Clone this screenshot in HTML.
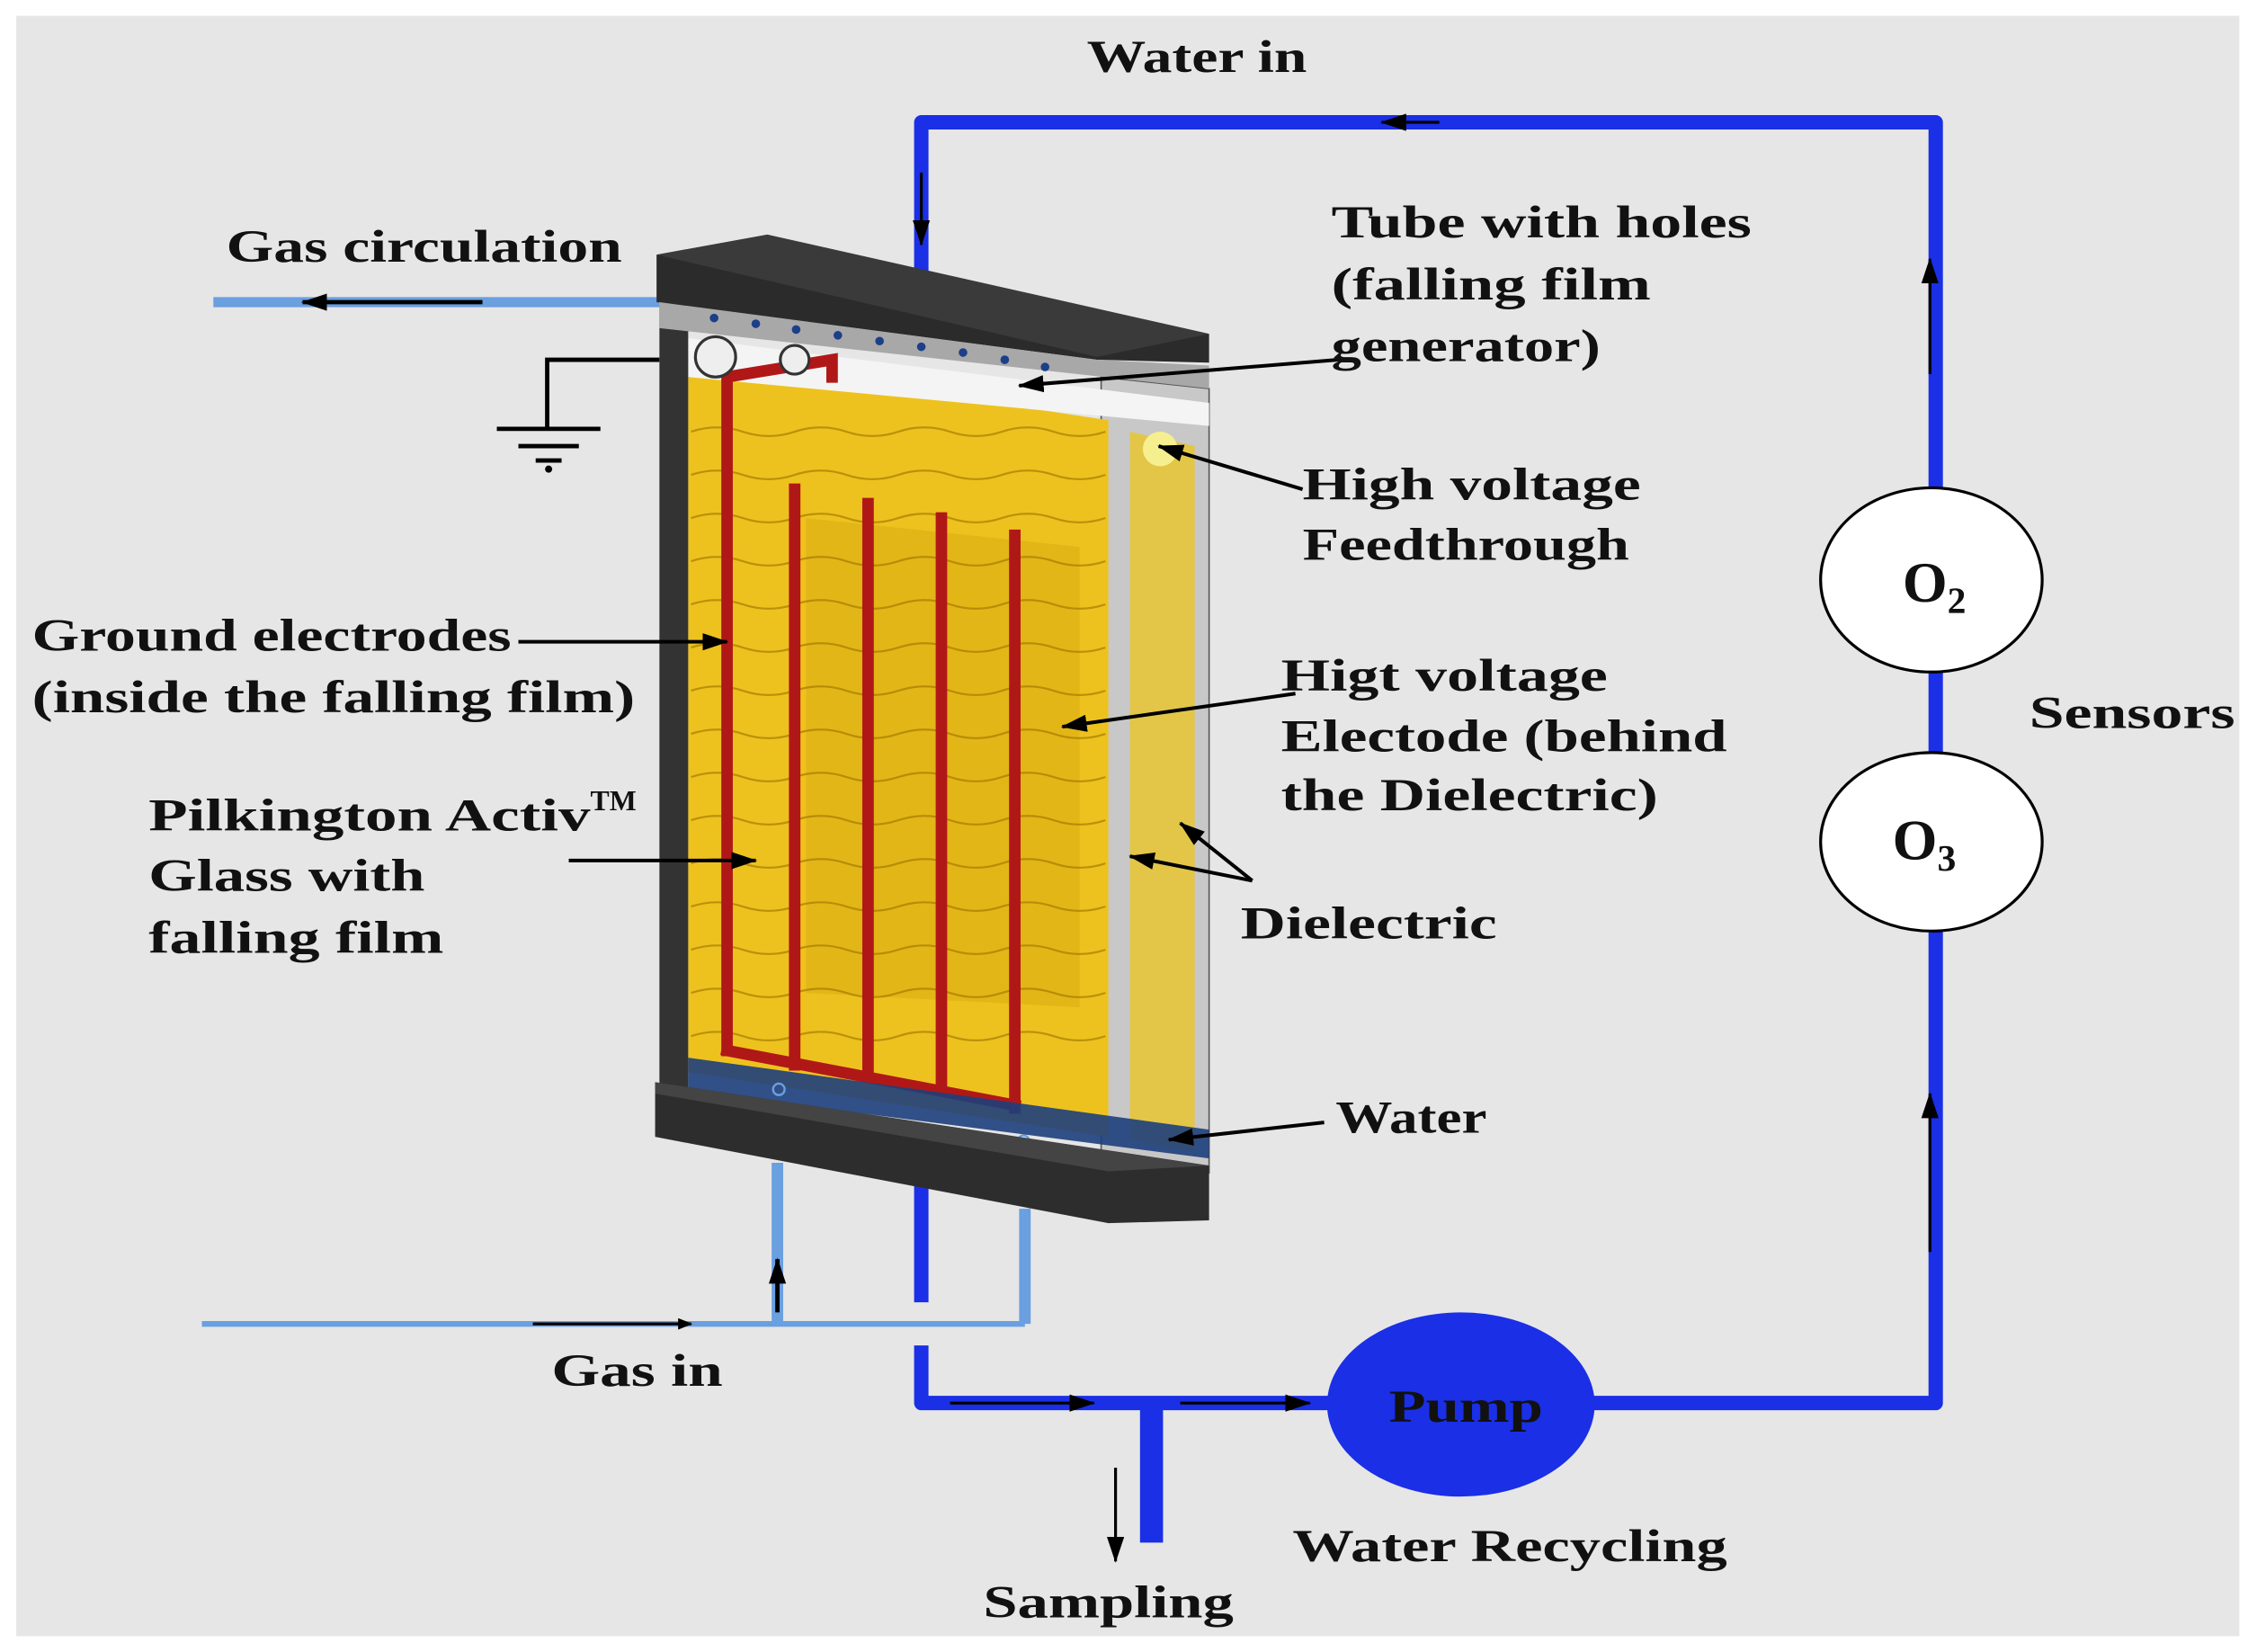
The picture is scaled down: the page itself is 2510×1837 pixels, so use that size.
<!DOCTYPE html>
<html><head><meta charset="utf-8"><style>
html,body{margin:0;padding:0;background:#fff;}
svg{display:block;}
text{font-family:"Liberation Serif",serif;font-weight:bold;fill:#111;}
</style></head><body>
<svg width="2510" height="1837" viewBox="0 0 1568 1148" xmlns="http://www.w3.org/2000/svg">
<defs>
<marker id="ah" markerWidth="10" markerHeight="8" refX="9" refY="4" orient="auto" markerUnits="userSpaceOnUse"><path d="M0,0 L10,4 L0,8 Z" fill="#000"/></marker>
<marker id="ahb" markerWidth="18" markerHeight="12" refX="17" refY="6" orient="auto" markerUnits="userSpaceOnUse"><path d="M0,0 L18,6 L0,12 Z" fill="#000"/></marker>
</defs>
<rect x="11" y="11" width="1545" height="1126" fill="#e6e6e6"/>

<g stroke="#1a2fe6" stroke-width="10" fill="none" stroke-linejoin="round">
<path d="M640,200 L640,85 L1345,85 L1345,975 L1105,975"/>
<path d="M640,822 L640,905 M640,935 L640,975 L925,975"/>
<path d="M800,975 L800,1072" stroke-width="16"/>
</g>
<g stroke="#000" stroke-width="2" fill="none">
<line x1="1000" y1="85" x2="960" y2="85" marker-end="url(#ahb)"/>
<line x1="640" y1="120" x2="640" y2="170" marker-end="url(#ahb)"/>
<line x1="1341" y1="260" x2="1341" y2="180" marker-end="url(#ahb)"/>
<line x1="1341" y1="870" x2="1341" y2="760" marker-end="url(#ahb)"/>
<line x1="660" y1="975" x2="760" y2="975" marker-end="url(#ahb)"/>
<line x1="820" y1="975" x2="910" y2="975" marker-end="url(#ahb)"/>
<line x1="775" y1="1020" x2="775" y2="1085" marker-end="url(#ahb)"/>
</g>
<ellipse cx="1342" cy="403" rx="77" ry="64" fill="#fff" stroke="#000" stroke-width="2"/>
<ellipse cx="1342" cy="585" rx="77" ry="62" fill="#fff" stroke="#000" stroke-width="2"/>
<text x="1322" y="418" font-size="40" font-weight="normal">O<tspan font-size="26" dy="8">2</tspan></text>
<text x="1315" y="597" font-size="40" font-weight="normal">O<tspan font-size="26" dy="8">3</tspan></text>
<ellipse cx="1015" cy="976" rx="93" ry="64" fill="#1a2fe6"/>
<text x="965" y="988" font-size="32" textLength="107" lengthAdjust="spacingAndGlyphs">Pump</text>

<g stroke="#6a9fe0" fill="none">
<line x1="148" y1="210" x2="458" y2="210" stroke-width="7"/>
<line x1="140" y1="920" x2="712" y2="920" stroke-width="4"/>
<line x1="540" y1="808" x2="540" y2="920" stroke-width="8"/>
<line x1="712" y1="840" x2="712" y2="920" stroke-width="8"/>
</g>
<line x1="335" y1="210" x2="210" y2="210" stroke="#000" stroke-width="3" marker-end="url(#ahb)"/>
<line x1="370" y1="920" x2="480" y2="920" stroke="#000" stroke-width="2" marker-end="url(#ah)"/>
<line x1="540" y1="912" x2="540" y2="875" stroke="#000" stroke-width="3" marker-end="url(#ahb)"/>

<g stroke="#000" stroke-width="3" fill="none">
<path d="M458,250 L380,250 L380,298"/>
<line x1="345" y1="298" x2="417" y2="298"/>
<line x1="360" y1="310" x2="402" y2="310"/>
<line x1="372" y1="320" x2="390" y2="320"/>
</g>
<circle cx="381" cy="326" r="2.5" fill="#000"/>

<polygon points="765,262 840,270 840,815 765,800" fill="#c8c8c8" stroke="#555" stroke-width="1"/>
<polygon points="785,300 830,310 830,800 785,792" fill="#e8c530" opacity="0.85"/>
<polygon points="478,248 770,292 770,790 478,745" fill="#eec21e"/>
<polygon points="560,360 750,380 750,700 560,690" fill="#d7aa10" opacity="0.5"/>
<g stroke="#a07800" stroke-width="1.4" fill="none" opacity="0.65">
<path d="M480,300 q18,-6 36,0 t36,0 t36,0 t36,0 t36,0 t36,0 t36,0 t36,0"/>
<path d="M480,330 q18,-6 36,0 t36,0 t36,0 t36,0 t36,0 t36,0 t36,0 t36,0"/>
<path d="M480,360 q18,-6 36,0 t36,0 t36,0 t36,0 t36,0 t36,0 t36,0 t36,0"/>
<path d="M480,390 q18,-6 36,0 t36,0 t36,0 t36,0 t36,0 t36,0 t36,0 t36,0"/>
<path d="M480,420 q18,-6 36,0 t36,0 t36,0 t36,0 t36,0 t36,0 t36,0 t36,0"/>
<path d="M480,450 q18,-6 36,0 t36,0 t36,0 t36,0 t36,0 t36,0 t36,0 t36,0"/>
<path d="M480,480 q18,-6 36,0 t36,0 t36,0 t36,0 t36,0 t36,0 t36,0 t36,0"/>
<path d="M480,510 q18,-6 36,0 t36,0 t36,0 t36,0 t36,0 t36,0 t36,0 t36,0"/>
<path d="M480,540 q18,-6 36,0 t36,0 t36,0 t36,0 t36,0 t36,0 t36,0 t36,0"/>
<path d="M480,570 q18,-6 36,0 t36,0 t36,0 t36,0 t36,0 t36,0 t36,0 t36,0"/>
<path d="M480,600 q18,-6 36,0 t36,0 t36,0 t36,0 t36,0 t36,0 t36,0 t36,0"/>
<path d="M480,630 q18,-6 36,0 t36,0 t36,0 t36,0 t36,0 t36,0 t36,0 t36,0"/>
<path d="M480,660 q18,-6 36,0 t36,0 t36,0 t36,0 t36,0 t36,0 t36,0 t36,0"/>
<path d="M480,690 q18,-6 36,0 t36,0 t36,0 t36,0 t36,0 t36,0 t36,0 t36,0"/>
<path d="M480,720 q18,-6 36,0 t36,0 t36,0 t36,0 t36,0 t36,0 t36,0 t36,0"/>
</g>
<polygon points="478,235 840,280 840,296 478,262" fill="#f4f4f4"/>
<g stroke="#b01818" stroke-width="8" fill="none" stroke-linecap="square">
<path d="M505,730 L505,262 L578,250 L578,262"/>
<line x1="552" y1="340" x2="552" y2="740"/>
<line x1="603" y1="350" x2="603" y2="745"/>
<line x1="654" y1="360" x2="654" y2="752"/>
<line x1="705" y1="372" x2="705" y2="770"/>
<line x1="505" y1="730" x2="705" y2="768"/>
</g>
<polygon points="478,735 840,785 840,805 478,758" fill="#1d3f7c" opacity="0.9"/>
<circle cx="541" cy="757" r="4" fill="none" stroke="#6a9fe0" stroke-width="1.5"/>
<circle cx="711" cy="793" r="4" fill="none" stroke="#6a9fe0" stroke-width="1.5"/>
<polygon points="458,212 478,214 478,762 458,760" fill="#333"/>
<circle cx="497" cy="248" r="14" fill="#eee" stroke="#333" stroke-width="2"/>
<circle cx="552" cy="250" r="10" fill="#eee" stroke="#333" stroke-width="2"/>
<circle cx="806" cy="312" r="12" fill="#f6ef90"/>
<polygon points="456,177 533,163 840,232 840,252 762,250 456,210" fill="#2b2b2b"/>
<polygon points="456,177 533,163 840,232 762,248" fill="#3a3a3a"/>
<polygon points="458,210 762,250 840,254 840,270 458,228" fill="#a8a8a8"/>
<g fill="#1c3f8a">
<circle cx="496" cy="221" r="3"/><circle cx="525" cy="225" r="3"/><circle cx="553" cy="229" r="3"/><circle cx="582" cy="233" r="3"/><circle cx="611" cy="237" r="3"/><circle cx="640" cy="241" r="3"/><circle cx="669" cy="245" r="3"/><circle cx="698" cy="250" r="3"/><circle cx="726" cy="255" r="3"/>
</g>
<polygon points="455,752 840,810 840,848 770,850 455,790" fill="#2d2d2d"/>
<polygon points="455,752 840,810 770,814 455,760" fill="#444"/>

<g stroke="#000" stroke-width="2.5" fill="none">
<line x1="360" y1="446" x2="505" y2="446" marker-end="url(#ahb)"/>
<line x1="395" y1="598" x2="525" y2="598" marker-end="url(#ahb)"/>
<line x1="900" y1="482" x2="738" y2="505" marker-end="url(#ahb)"/>
<line x1="930" y1="250" x2="708" y2="268" marker-end="url(#ahb)"/>
<line x1="905" y1="340" x2="805" y2="310" marker-end="url(#ahb)"/>
<line x1="870" y1="612" x2="785" y2="595" marker-end="url(#ahb)"/>
<line x1="870" y1="612" x2="820" y2="572" marker-end="url(#ahb)"/>
<line x1="920" y1="780" x2="812" y2="792" marker-end="url(#ahb)"/>
</g>

<g font-size="32">
<text x="755" y="50" textLength="153" lengthAdjust="spacingAndGlyphs">Water in</text>
<text x="157" y="182" textLength="275" lengthAdjust="spacingAndGlyphs">Gas circulation</text>
<text x="925" y="165" textLength="292" lengthAdjust="spacingAndGlyphs">Tube with holes</text>
<text x="925" y="208" textLength="222" lengthAdjust="spacingAndGlyphs">(falling film</text>
<text x="925" y="251" textLength="187" lengthAdjust="spacingAndGlyphs">generator)</text>
<text x="905" y="347" textLength="235" lengthAdjust="spacingAndGlyphs">High voltage</text>
<text x="905" y="389" textLength="227" lengthAdjust="spacingAndGlyphs">Feedthrough</text>
<text x="22" y="452" textLength="333" lengthAdjust="spacingAndGlyphs">Ground electrodes</text>
<text x="22" y="495" textLength="419" lengthAdjust="spacingAndGlyphs">(inside the falling film)</text>
<text x="890" y="480" textLength="227" lengthAdjust="spacingAndGlyphs">Higt voltage</text>
<text x="890" y="522" textLength="310" lengthAdjust="spacingAndGlyphs">Electode (behind</text>
<text x="890" y="563" textLength="262" lengthAdjust="spacingAndGlyphs">the Dielectric)</text>
<text x="1410" y="506" textLength="143" lengthAdjust="spacingAndGlyphs">Sensors</text>
<text x="103" y="577" textLength="307" lengthAdjust="spacingAndGlyphs">Pilkington Activ</text>
<text x="410" y="563" font-size="20" textLength="32" lengthAdjust="spacingAndGlyphs">TM</text>
<text x="103" y="619" textLength="192" lengthAdjust="spacingAndGlyphs">Glass with</text>
<text x="103" y="662" textLength="205" lengthAdjust="spacingAndGlyphs">falling film</text>
<text x="862" y="652" textLength="178" lengthAdjust="spacingAndGlyphs">Dielectric</text>
<text x="928" y="787" textLength="105" lengthAdjust="spacingAndGlyphs">Water</text>
<text x="383" y="963" textLength="119" lengthAdjust="spacingAndGlyphs">Gas in</text>
<text x="898" y="1085" textLength="302" lengthAdjust="spacingAndGlyphs">Water Recycling</text>
<text x="683" y="1124" textLength="174" lengthAdjust="spacingAndGlyphs">Sampling</text>
</g>
</svg>
</body></html>
